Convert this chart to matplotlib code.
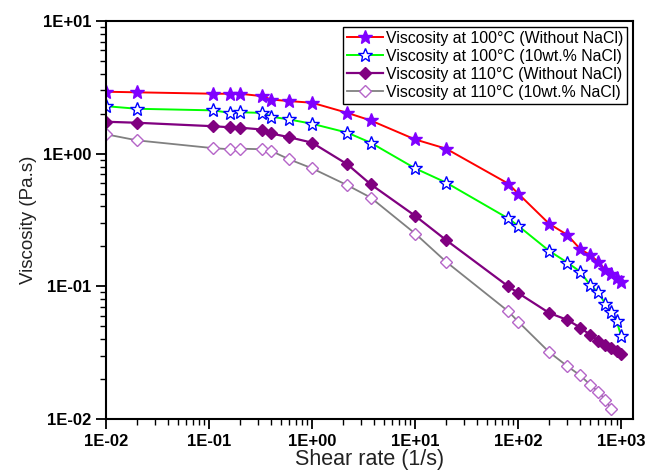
import numpy as np
import matplotlib
matplotlib.use("Agg")
from matplotlib import pyplot as plt
from matplotlib import ticker

plt.rcParams['font.family'] = ['Liberation Sans', 'DejaVu Sans']

# shear rate (1/s)
shear = [0.01, 0.02, 0.11, 0.16, 0.2, 0.33, 0.4, 0.6, 1.0, 2.2, 3.7, 10, 20,
         80, 100, 200, 300, 400, 500, 600, 700, 800, 900, 1000]

# viscosity (Pa.s)
visc_100 = [2.93, 2.90, 2.83, 2.83, 2.83, 2.71, 2.56, 2.49, 2.42, 2.03, 1.78, 1.28, 1.09,
            0.595, 0.50, 0.296, 0.244, 0.191, 0.172, 0.153, 0.133, 0.124, 0.115, 0.108]
visc_100_nacl = [2.28, 2.18, 2.12, 2.03, 2.05, 2.03, 1.90, 1.81, 1.68, 1.44, 1.21, 0.775, 0.605,
                 0.325, 0.286, 0.185, 0.151, 0.129, 0.102, 0.090, 0.0736, 0.0638, 0.0551, 0.042]
visc_110 = [1.74, 1.71, 1.61, 1.58, 1.57, 1.52, 1.42, 1.33, 1.21, 0.831, 0.588, 0.340, 0.223,
            0.100, 0.089, 0.063, 0.0558, 0.0489, 0.043, 0.039, 0.0362, 0.0344, 0.0326, 0.031]
visc_110_nacl = [1.40, 1.26, 1.10, 1.08, 1.09, 1.08, 1.05, 0.906, 0.775, 0.578, 0.467, 0.250, 0.153,
                 0.0649, 0.0542, 0.0319, 0.0250, 0.0213, 0.0181, 0.0160, 0.0140, 0.0119]

labels = ["Viscosity at 100°C (Without NaCl)",
          "Viscosity at 100°C (10wt.% NaCl)",
          "Viscosity at 110°C (Without NaCl)",
          "Viscosity at 110°C (10wt.% NaCl)"]

fig = plt.figure(figsize=(6.49, 4.73), dpi=100)
ax = fig.add_axes([0.1633, 0.1142, 0.8120, 0.8414])

ax.plot(shear, visc_100, color='#ff0000', lw=1.4, marker='*', ms=10,
        mfc='#7f00ff', mec='#7f00ff', label=labels[0])
ax.plot(shear, visc_100_nacl, color='#00ff00', lw=1.4, marker='*', ms=10,
        mfc='white', mec='#0000ff', mew=1.0, label=labels[1])
ax.plot(shear, visc_110, color='#800080', lw=1.6, marker='D', ms=6.5,
        mfc='#800080', mec='#800080', label=labels[2])
ax.plot(shear[:len(visc_110_nacl)], visc_110_nacl, color='#808080', lw=1.3, marker='D', ms=6.5,
        mfc='white', mec='#b565c8', mew=1.0, label=labels[3])

ax.set_xscale('log')
ax.set_yscale('log')
ax.set_xlim(0.01, 1300)
ax.set_ylim(0.01, 10)

fmt = ticker.FuncFormatter(lambda v, p: "{:.0E}".format(v))
ax.xaxis.set_major_locator(ticker.LogLocator(base=10, numticks=10))
ax.yaxis.set_major_locator(ticker.LogLocator(base=10, numticks=10))
ax.xaxis.set_minor_locator(ticker.LogLocator(base=10, subs=np.arange(2, 10), numticks=20))
ax.yaxis.set_minor_locator(ticker.LogLocator(base=10, subs=np.arange(2, 10), numticks=20))
ax.xaxis.set_major_formatter(fmt)
ax.yaxis.set_major_formatter(fmt)
ax.xaxis.set_minor_formatter(ticker.NullFormatter())
ax.yaxis.set_minor_formatter(ticker.NullFormatter())

ax.tick_params(which='major', direction='out', length=7, width=1.3, labelsize=12)
ax.tick_params(which='minor', direction='out', length=4, width=1.0)
for lab in ax.get_xticklabels() + ax.get_yticklabels():
    lab.set_fontweight('bold')
for s in ax.spines.values():
    s.set_linewidth(1.5)

ax.set_xlabel("Shear rate (1/s)", fontsize=15.5, labelpad=0, color='#222222')
ax.set_ylabel("Viscosity (Pa.s)", fontsize=13.5, labelpad=4, color='#222222')

leg = ax.legend(loc='upper right', fontsize=11.4, fancybox=False, framealpha=1,
                edgecolor='black', handlelength=2.3, borderpad=0.25, labelspacing=0.2,
                handletextpad=0.2, borderaxespad=0.35)
leg.get_frame().set_linewidth(1.0)

plt.savefig("out.png", dpi=100)
